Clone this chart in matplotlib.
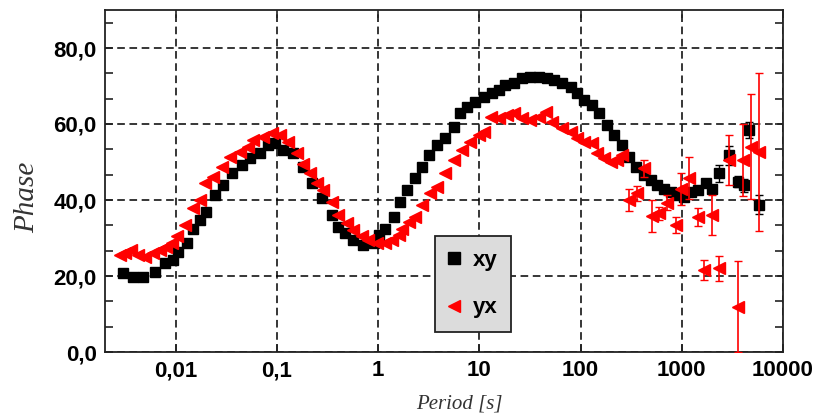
import numpy as np
import matplotlib
matplotlib.use('Agg')
import matplotlib.pyplot as plt
from matplotlib.lines import Line2D
from matplotlib.ticker import FixedLocator, FixedFormatter, MultipleLocator, NullLocator

# curva xy (quadrados pretos)
periodo_xy = [0.00301, 0.00378, 0.00475, 0.00620, 0.00778, 0.00942, 0.0105, 0.0128,
              0.0149, 0.0173, 0.0201, 0.0243, 0.0294, 0.0356, 0.0448, 0.0541, 0.0679,
              0.0820, 0.0955, 0.116, 0.145, 0.182, 0.221, 0.277, 0.348, 0.405, 0.471,
              0.570, 0.716, 0.900, 1.01, 1.17, 1.42, 1.65, 1.92, 2.33, 2.71, 3.15,
              3.81, 4.61, 5.57, 6.49, 7.55, 9.14, 11.0, 13.4, 15.5, 18.1, 21.9, 26.5,
              32.0, 38.6, 46.8, 54.5, 65.9, 79.6, 92.7, 108, 131, 152, 184, 214, 259,
              301, 351, 424, 493, 575, 668, 778, 908, 1050, 1230, 1430, 1730, 2010,
              2340, 2940, 3560, 4140, 4650, 5830]
fase_xy = [20.9, 19.8, 19.8, 21.1, 23.3, 24.2, 26.4, 28.6, 32.5, 34.7, 36.9, 41.3,
           43.9, 47.0, 49.2, 51.0, 52.3, 54.5, 54.9, 53.2, 52.3, 48.8, 44.4, 40.4,
           36.1, 33.0, 31.2, 29.5, 28.2, 28.6, 30.8, 32.5, 35.6, 39.6, 42.6, 45.7,
           48.8, 51.8, 54.5, 56.2, 59.3, 62.8, 64.6, 65.9, 67.2, 68.1, 68.9, 70.3,
           70.7, 72.0, 72.4, 72.4, 72.0, 71.6, 70.7, 69.8, 68.1, 66.3, 65.0, 62.8,
           59.7, 57.1, 54.5, 51.4, 48.8, 46.6, 45.3, 43.9, 43.0, 42.2, 41.3, 40.9,
           42.2, 42.6, 44.4, 43.0, 47.0, 51.8, 44.8, 43.9, 58.4, 38.7]
erro_xy = [1.0] + [0.3] * 74 + [1.0, 2.3, 2.5, 1.5, 1.7, 2.0, 2.5]

# curva yx (triangulos vermelhos)
periodo_yx = [0.00279, 0.00313, 0.00365, 0.00424, 0.00493, 0.00597, 0.00695, 0.00809,
              0.00908, 0.0102, 0.0123, 0.0149, 0.0173, 0.0194, 0.0234, 0.0284, 0.0343,
              0.0431, 0.0520, 0.0583, 0.0733, 0.0887, 0.107, 0.129, 0.157, 0.182,
              0.212, 0.247, 0.288, 0.348, 0.405, 0.490, 0.570, 0.690, 0.802, 0.970,
              1.17, 1.37, 1.59, 1.72, 2.00, 2.33, 2.71, 3.27, 3.81, 4.61, 5.57, 6.75,
              8.15, 9.84, 11.0, 12.9, 15.5, 18.8, 21.9, 26.5, 32.0, 38.6, 45.1, 52.5,
              65.9, 79.6, 92.7, 108, 131, 146, 170, 198, 231, 259,
              301, 364, 424, 513, 596, 721, 873, 977, 1180, 1430, 1660, 2010, 2340,
              2940, 3560, 3990, 4820, 5830]
fase_yx = [25.5, 26.0, 26.8, 25.5, 25.1, 26.0, 26.8, 27.7, 28.6, 30.4, 33.4, 37.8,
           40.0, 44.4, 46.1, 48.8, 51.4, 52.7, 54.0, 55.8, 56.7, 57.5, 57.1, 55.3,
           52.3, 49.6, 47.0, 44.4, 42.6, 39.6, 36.1, 33.9, 32.1, 30.4, 29.5, 28.6,
           28.6, 29.5, 30.8, 32.5, 34.3, 35.6, 38.7, 41.8, 43.5, 47.0, 50.5, 53.2,
           55.3, 57.1, 58.0, 61.9, 61.5, 62.4, 62.8, 61.5, 61.1, 61.9, 63.2, 60.6,
           58.9, 58.0, 56.2, 55.3, 54.9, 52.3, 51.0, 50.1, 50.5, 51.8,
           40.0, 41.8, 48.3, 35.8, 36.5, 39.3, 33.4, 42.8, 45.7, 35.6, 21.6, 36.0,
           22.0, 50.5, 11.9, 50.5, 54.0, 52.7]
erro_yx = [0.0] * 70 + [2.9, 2.0, 2.3, 4.2, 1.7, 2.0, 2.2, 4.2, 5.5, 2.4, 2.6, 5.3,
                        3.3, 6.6, 12.0, 9.4, 13.8, 20.8]

ticks_x = [0.01, 0.1, 1, 10, 100, 1000, 10000]
rotulos_x = ['0,01', '0,1', '1', '10', '100', '1000', '10000']
ticks_y = [0, 20, 40, 60, 80]
rotulos_y = ['0,0', '20,0', '40,0', '60,0', '80,0']

fig = plt.figure(figsize=(8.28, 4.17), dpi=100)
ax = fig.add_axes([105 / 828, 1 - 352 / 417, 678 / 828, 342 / 417])

ax.errorbar(periodo_xy, fase_xy, yerr=erro_xy, fmt='s', color='black', ms=7,
            ecolor='black', elinewidth=1, capsize=3, zorder=3)
ax.errorbar(periodo_yx, fase_yx, yerr=erro_yx, fmt='<', color='red', ms=8,
            ecolor='red', elinewidth=1.2, capsize=3, zorder=4)

ax.set_xscale('log')
ax.set_xlim(0.002, 10000)
ax.set_ylim(0, 90)

ax.xaxis.set_major_locator(FixedLocator(ticks_x))
ax.xaxis.set_major_formatter(FixedFormatter(rotulos_x))
ax.xaxis.set_minor_locator(NullLocator())
ax.yaxis.set_major_locator(FixedLocator(ticks_y))
ax.yaxis.set_major_formatter(FixedFormatter(rotulos_y))
ax.yaxis.set_minor_locator(MultipleLocator(20 / 3))

ax.tick_params(axis='both', which='both', direction='in', top=True, right=True,
               width=1.2, color='#222222')
ax.tick_params(axis='both', which='major', length=6, labelsize=16, pad=6)
ax.tick_params(axis='y', which='minor', length=6)
for lbl in ax.get_xticklabels() + ax.get_yticklabels():
    lbl.set_fontweight('bold')
    lbl.set_fontfamily('Liberation Sans')

ax.grid(True, which='major', color='black', linestyle=(0, (5, 3)), linewidth=1.1)
for s in ax.spines.values():
    s.set_linewidth(1.3)
    s.set_color('#222222')

ax.set_xlabel('Period [s]', fontsize=15, fontstyle='italic',
              fontfamily='Liberation Serif', color='#333333')
ax.set_ylabel('Phase', fontsize=21, fontstyle='italic',
              fontfamily='Liberation Serif', color='#333333')
ax.xaxis.set_label_coords(0.522, -0.125)
ax.yaxis.set_label_coords(-0.096, 0.453)

# legenda so com os marcadores
marcas = [Line2D([], [], marker='s', color='black', linestyle='None', ms=8),
          Line2D([], [], marker='<', color='red', linestyle='None', ms=9)]
leg = ax.legend(marcas, ['xy', 'yx'], loc='lower left', bbox_to_anchor=(0.487, 0.059),
                fancybox=False, framealpha=1, facecolor='#dcdcdc', edgecolor='#222222',
                prop={'family': 'Liberation Sans', 'size': 16, 'weight': 'bold'},
                handletextpad=0.6, labelspacing=1.2, borderpad=0.6,
                handlelength=0.5, borderaxespad=0)
leg.get_frame().set_linewidth(1.3)

fig.savefig('out.png', dpi=100)
